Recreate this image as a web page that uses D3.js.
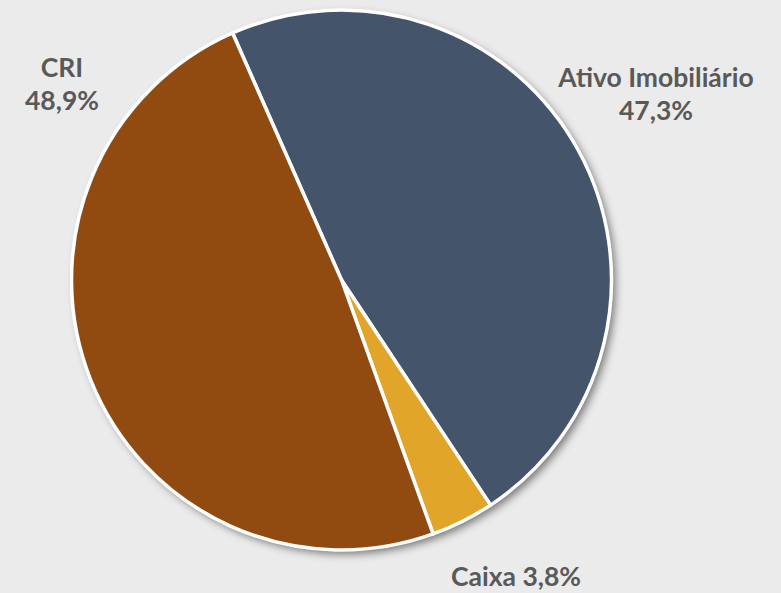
<!DOCTYPE html>
<html>
<head>
<meta charset="utf-8">
<script src="https://cdnjs.cloudflare.com/ajax/libs/d3/7.8.5/d3.min.js"></script>
<style>
  body { margin:0; background:#ebebeb; }
</style>
</head>
<body>
<div class="svg-container"></div>
<script>
//chart data
const categories = ['Ativo Imobiliário', 'Caixa', 'CRI'];
const shares = [47.3, 3.8, 48.9];
const colors = ['#44546a', '#e1a52a', '#914b11'];

const width = 781;
const height = 593;
const cx = 341.5, cy = 280, radius = 270;

const svg = d3.select('.svg-container')
    .append('svg')
    .attr('width', width)
    .attr('height', height);

svg.append('rect')
    .attr('width', width)
    .attr('height', height)
    .attr('fill', '#ebebeb');

//soft shadow behind the pie
const defs = svg.append('defs');
const filt = defs.append('filter')
    .attr('id', 'shadow')
    .attr('x', '-10%').attr('y', '-10%')
    .attr('width', '120%').attr('height', '120%');
filt.append('feGaussianBlur').attr('in', 'SourceAlpha').attr('stdDeviation', 4);
filt.append('feOffset').attr('dx', 4).attr('dy', 4).attr('result', 'blur');
filt.append('feComponentTransfer').append('feFuncA').attr('type', 'linear').attr('slope', 0.5);
const merge = filt.append('feMerge');
merge.append('feMergeNode');
merge.append('feMergeNode').attr('in', 'SourceGraphic');

const startAngle = -23.8 * Math.PI / 180;
const pie = d3.pie()
    .sort(null)
    .value(d => d)
    .startAngle(startAngle)
    .endAngle(startAngle + 2 * Math.PI);

const arc = d3.arc().innerRadius(0).outerRadius(radius);

const g = svg.append('g')
    .attr('transform', `translate(${cx},${cy})`);

g.append('circle')
    .attr('r', radius)
    .attr('fill', '#fff')
    .attr('filter', 'url(#shadow)');

g.selectAll('.slice')
    .data(pie(shares))
    .join('path')
    .attr('class', 'slice')
    .attr('d', arc)
    .attr('fill', (d, i) => colors[i])
    .attr('stroke', '#fff')
    .attr('stroke-width', 3.5)
    .attr('stroke-linejoin', 'round');

//labels
const fmt = v => v.toFixed(1).replace('.', ',') + '%';
const labels = [
    { lines: [categories[0], fmt(shares[0])], x: 656, y: 87 },
    { lines: [categories[1] + ' ' + fmt(shares[1])], x: 516, y: 586 },
    { lines: [categories[2], fmt(shares[2])], x: 62, y: 77 }
];

labels.forEach(l => {
    const t = svg.append('text')
        .attr('text-anchor', 'middle')
        .attr('font-family', 'Lato, "Open Sans", sans-serif')
        .attr('font-weight', 'bold')
        .attr('font-size', 26.5)
        .attr('fill', '#595959');
    l.lines.forEach((s, i) => {
        t.append('tspan')
            .attr('x', l.x)
            .attr('y', l.y + i * 33)
            .text(s);
    });
});
</script>
</body>
</html>
